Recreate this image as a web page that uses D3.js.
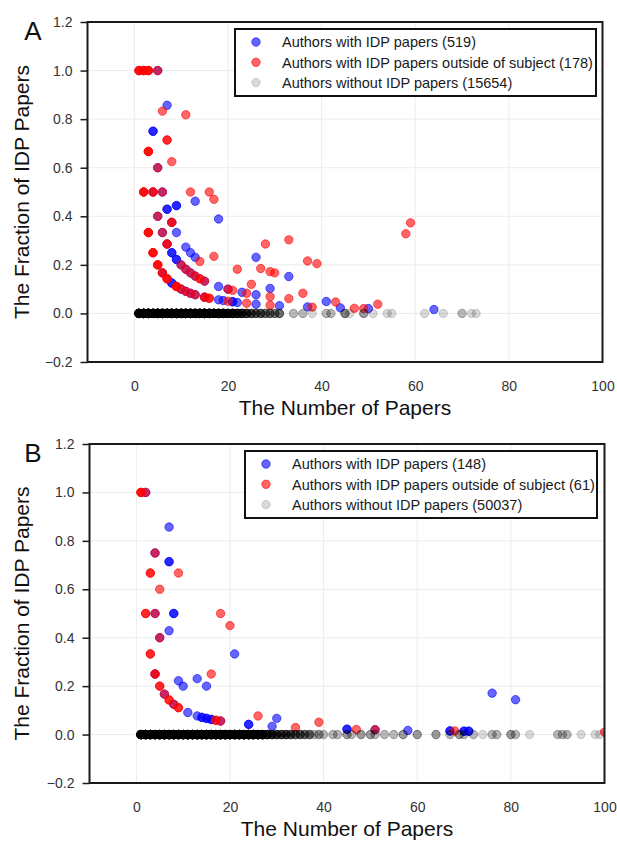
<!DOCTYPE html>
<html>
<head>
<meta charset="utf-8">
<script src="https://cdnjs.cloudflare.com/ajax/libs/d3/7.8.5/d3.min.js"></script>
<style>
  body { margin: 0; background: #fff; }
  svg { display: block; font-family: "Liberation Sans", Arial, sans-serif; }
</style>
</head>
<body>
<svg id="fig" width="617" height="844"></svg>
<script>
// ---- axis ticks ----
const xTicks = [0, 20, 40, 60, 80, 100];
const yTicks = [-0.2, 0, 0.2, 0.4, 0.6, 0.8, 1.0, 1.2];
const xTitle = "The Number of Papers";
const yTitle = "The Fraction of IDP Papers";

// ---- panel A ----
const legendA = [
  "Authors with IDP papers (519)",
  "Authors with IDP papers outside of subject (178)",
  "Authors without IDP papers (15654)"
];
// [papers, fraction, authors at that spot]
const blueA = [
  [5,1.0,1],[7,0.857,1],[4,0.75,2],[5,0.6,1],[4,0.5,1],[6,0.5,1],[13,0.462,1],
  [7,0.429,2],[9,0.444,2],[5,0.4,1],[8,0.375,1],[18,0.389,1],[6,0.333,1],[9,0.333,1],
  [7,0.286,1],[8,0.25,2],[11,0.273,1],[12,0.25,1],[9,0.222,2],[13,0.231,1],[26,0.231,1],
  [6,0.167,1],[8,0.125,2],[10,0.2,1],[11,0.182,1],[12,0.167,1],[13,0.154,1],[15,0.133,1],
  [10,0.1,1],[11,0.091,1],[12,0.083,1],[13,0.077,1],[15,0.067,1],[18,0.111,1],[18,0.056,1],
  [19,0.053,1],[20,0.1,1],[21,0.048,2],[22,0.045,1],[23,0.087,1],[26,0.077,1],[26,0.038,1],
  [29,0.103,1],[33,0.152,1],[31,0.032,1],[37,0.027,1],[41,0.049,1],[44,0.023,1],[50,0.02,1],
  [64,0.016,1]
];
const redA = [
  [1,1.0,3],[2,1.0,3],[3,1.0,3],[5,1.0,1],[6,0.833,1],[11,0.818,1],[7,0.714,2],[3,0.667,3],
  [8,0.625,1],[5,0.6,1],[2,0.5,3],[4,0.5,2],[6,0.5,1],[12,0.5,1],[16,0.5,1],[17,0.47,1],
  [5,0.4,1],[8,0.375,2],[3,0.333,3],[6,0.333,1],[7,0.286,2],[4,0.25,3],[14,0.214,1],
  [17,0.235,1],[28,0.286,1],[33,0.303,1],[37,0.216,1],[39,0.205,1],[5,0.2,3],[6,0.167,2],
  [7,0.143,3],[9,0.111,3],[10,0.2,1],[11,0.182,1],[12,0.167,1],[13,0.154,1],[14,0.143,2],
  [15,0.133,1],[10,0.1,1],[11,0.091,1],[12,0.083,1],[13,0.077,1],[15,0.067,2],[16,0.0625,2],
  [20,0.1,1],[21,0.095,1],[20,0.05,1],[24,0.083,1],[24,0.042,1],[22,0.182,1],[25,0.12,1],
  [27,0.185,1],[29,0.172,1],[30,0.167,1],[29,0.069,1],[29,0.034,1],[33,0.061,1],[36,0.083,1],
  [38,0.026,1],[43,0.047,1],[47,0.021,1],[49,0.02,1],[52,0.038,1],[58,0.328,1],[59,0.373,1]
];
// [papers, authors] for authors whose fraction is 0
const grayA = [
  [1,5100],[2,2400],[3,1500],[4,1000],[5,720],[6,520],[7,380],[8,280],[9,200],[10,150],
  [11,110],[12,80],[13,60],[14,50],[15,42],[16,36],[17,30],[18,26],[19,22],[20,19],
  [21,16],[22,13],[23,11],[24,9],[25,7],[26,6],[27,6],[28,5],[29,5],[30,4],[31,5],
  [34,2],[36,2],[38,1],[41,2],[42,2],[45,4],[46,1],[49,3],[51,1],[54,1],[55,1],
  [62,1],[66,1],[70,2],[72,1],[73,1]
];

// ---- panel B ----
const legendB = [
  "Authors with IDP papers (148)",
  "Authors with IDP papers outside of subject (61)",
  "Authors without IDP papers (50037)"
];
const blueB = [
  [2,1.0,1],[7,0.857,1],[4,0.75,1],[7,0.714,2],[4,0.5,1],[8,0.5,2],[7,0.429,1],[5,0.4,1],
  [21,0.333,1],[4,0.25,1],[9,0.222,1],[10,0.2,1],[13,0.231,1],[15,0.2,1],[6,0.167,1],
  [8,0.125,1],[11,0.091,1],[13,0.077,1],[14,0.071,2],[15,0.067,2],[16,0.0625,2],[18,0.056,1],
  [24,0.042,2],[29,0.034,1],[30,0.067,1],[45,0.022,2],[51,0.02,1],[58,0.017,1],[67,0.015,2],
  [70,0.014,2],[71,0.014,2],[76,0.171,1],[81,0.144,1]
];
const redB = [
  [1,1.0,3],[2,1.0,1],[4,0.75,1],[3,0.667,2],[9,0.667,1],[5,0.6,1],[2,0.5,2],[4,0.5,1],
  [18,0.5,1],[20,0.45,1],[5,0.4,1],[3,0.333,2],[4,0.25,2],[16,0.25,1],[5,0.2,2],[6,0.167,1],
  [7,0.143,2],[8,0.125,1],[9,0.111,2],[17,0.059,2],[18,0.056,1],[26,0.077,1],[34,0.029,1],
  [39,0.051,1],[47,0.021,1],[51,0.02,1],[68,0.015,1],[100,0.01,1]
];
const grayB = [
  [1,16000],[2,8000],[3,5200],[4,3600],[5,2700],[6,2000],[7,1600],[8,1300],[9,1050],[10,880],
  [11,740],[12,620],[13,520],[14,440],[15,370],[16,310],[17,260],[18,220],[19,180],[20,150],
  [21,120],[22,95],[23,75],[24,58],[25,45],[26,34],[27,25],[28,12],[29,10],[30,9],[31,8],
  [32,8],[33,7],[34,6],[35,6],[36,5],[37,5],[38,2],[39,3],[40,2],[42,2],[43,2],[45,3],
  [46,2],[48,3],[50,3],[51,2],[53,2],[55,2],[57,3],[60,3],[64,3],[67,2],[69,3],[70,2],
  [72,2],[74,1],[76,2],[77,2],[80,3],[81,2],[84,1],[90,2],[91,2],[92,2],[95,1],[98,1],[99,1]
];

// ---- drawing ----
const svg = d3.select("#fig");
const MAX_STACK = 40;   // beyond this many overlapping markers the spot is solid
const R = 4.2;

const styles = {
  blue: { color: "#0000ff", alpha: 0.6 },
  red:  { color: "#ff0000", alpha: 0.6 },
  gray: { color: "#000000", alpha: 0.15 }
};

function expand(rows) {
  // one marker per author (capped), so overlaps darken as they do in a scatter
  const out = [];
  rows.forEach(([p, f, n]) => {
    for (let i = 0; i < Math.min(n, MAX_STACK); i++) out.push([p, f]);
  });
  return out;
}

function drawPanel(cfg) {
  const x = d3.scaleLinear().domain([-10, 100]).range([cfg.left, cfg.right]);
  const y = d3.scaleLinear().domain([-0.2, 1.2]).range([cfg.bottom, cfg.top]);
  const g = svg.append("g");

  const clipId = "clip-" + cfg.letter;
  svg.append("clipPath").attr("id", clipId).append("rect")
    .attr("x", cfg.left).attr("y", cfg.top)
    .attr("width", cfg.right - cfg.left).attr("height", cfg.bottom - cfg.top);

  // grid
  const grid = g.append("g").attr("stroke", "#ececec").attr("stroke-width", 1);
  grid.selectAll(".gx").data(xTicks).join("line")
    .attr("x1", d => x(d)).attr("x2", d => x(d))
    .attr("y1", cfg.top).attr("y2", cfg.bottom);
  grid.selectAll(".gy").data(yTicks).join("line")
    .attr("x1", cfg.left).attr("x2", cfg.right)
    .attr("y1", d => y(d)).attr("y2", d => y(d));

  // markers: blue, then red, then gray
  const plot = g.append("g").attr("clip-path", `url(#${clipId})`);
  const layers = [
    [expand(cfg.blue), styles.blue],
    [expand(cfg.red), styles.red],
    [expand(cfg.gray.map(([p, n]) => [p, 0, n])), styles.gray]
  ];
  layers.forEach(([pts, st]) => {
    plot.append("g").selectAll("circle").data(pts).join("circle")
      .attr("cx", d => x(d[0])).attr("cy", d => y(d[1])).attr("r", R)
      .attr("fill", st.color).attr("fill-opacity", st.alpha)
      .attr("stroke", st.color).attr("stroke-opacity", st.alpha).attr("stroke-width", 1);
  });

  // y axis
  const yAxis = d3.axisLeft(y).tickValues(yTicks).tickSize(7).tickPadding(8)
    .tickFormat(d => d3.format(".1f")(d).replace("-", "\u2212"));
  const ya = g.append("g").attr("transform", `translate(${cfg.left},0)`).call(yAxis);
  ya.select(".domain").remove();
  ya.selectAll(".tick line").attr("stroke", "#1a1a1a").attr("stroke-width", 1.5);
  ya.selectAll(".tick text").attr("fill", "#333").attr("font-size", 14)
    .attr("font-family", "Liberation Sans, Arial, sans-serif");

  // x axis (labels only)
  const xAxis = d3.axisBottom(x).tickValues(xTicks).tickSize(0).tickPadding(19)
    .tickFormat(d3.format("d"));
  const xa = g.append("g").attr("transform", `translate(0,${cfg.bottom})`).call(xAxis);
  xa.select(".domain").remove();
  xa.selectAll(".tick text").attr("fill", "#333").attr("font-size", 14)
    .attr("font-family", "Liberation Sans, Arial, sans-serif");

  // frame
  g.append("rect").attr("x", cfg.left).attr("y", cfg.top)
    .attr("width", cfg.right - cfg.left).attr("height", cfg.bottom - cfg.top)
    .attr("fill", "none").attr("stroke", "#1a1a1a").attr("stroke-width", 2);

  // titles
  g.append("text").attr("x", (cfg.left + cfg.right) / 2).attr("y", cfg.bottom + 53)
    .attr("text-anchor", "middle").attr("font-size", 21).attr("fill", "#111").text(xTitle);
  g.append("text")
    .attr("transform", `translate(29,${(cfg.top + cfg.bottom) / 2}) rotate(-90)`)
    .attr("text-anchor", "middle").attr("font-size", 21).attr("fill", "#111").text(yTitle);
  g.append("text").attr("x", 33).attr("y", cfg.top + 18)
    .attr("text-anchor", "middle").attr("font-size", 26).attr("fill", "#111").text(cfg.letter);

  // legend
  const L = cfg.legend;
  const lg = g.append("g");
  lg.append("rect").attr("x", L.x).attr("y", L.y).attr("width", L.w).attr("height", L.h)
    .attr("fill", "#fff").attr("stroke", "#111").attr("stroke-width", 2);
  const legendStyles = [styles.blue, styles.red, styles.gray];
  cfg.labels.forEach((label, i) => {
    const cy = L.y + 13 + i * 20.3;
    lg.append("circle").attr("cx", L.x + 21).attr("cy", cy).attr("r", R)
      .attr("fill", legendStyles[i].color).attr("fill-opacity", legendStyles[i].alpha)
      .attr("stroke", legendStyles[i].color).attr("stroke-opacity", legendStyles[i].alpha);
    lg.append("text").attr("x", L.x + 47).attr("y", cy).attr("dy", "0.36em")
      .attr("font-size", 14.5).attr("fill", "#1a1a1a").text(label);
  });
}

drawPanel({
  letter: "A", left: 87.5, right: 602.5, top: 22, bottom: 362,
  blue: blueA, red: redA, gray: grayA, labels: legendA,
  legend: { x: 235, y: 29, w: 361, h: 67 }
});
drawPanel({
  letter: "B", left: 89.5, right: 604.5, top: 444, bottom: 783,
  blue: blueB, red: redB, gray: grayB, labels: legendB,
  legend: { x: 245, y: 451, w: 352, h: 67 }
});
</script>
</body>
</html>
